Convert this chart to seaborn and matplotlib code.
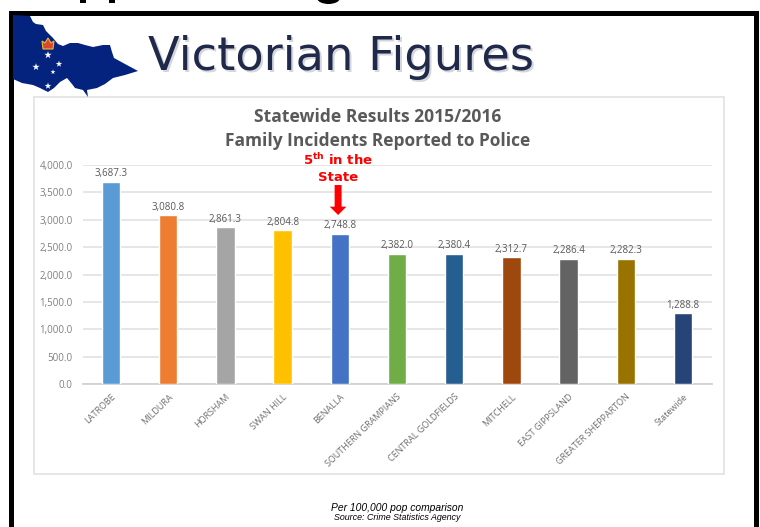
"""Victorian figures: family incidents reported to police, by area."""

import matplotlib

matplotlib.use("Agg")
import matplotlib.pyplot as plt
from matplotlib.patches import Ellipse, Polygon, Rectangle
import pandas as pd
import seaborn as sns

areas = ["LATROBE", "MILDURA", "HORSHAM", "SWAN HILL", "BENALLA",
         "SOUTHERN GRAMPIANS", "CENTRAL GOLDFIELDS", "MITCHELL",
         "EAST GIPPSLAND", "GREATER SHEPPARTON", "Statewide"]
rates = [3687.3, 3080.8, 2861.3, 2804.8, 2748.8, 2382.0, 2380.4, 2312.7,
         2286.4, 2282.3, 1288.8]
bar_colors = ["#5B9BD5", "#ED7D31", "#A5A5A5", "#FFC000", "#4472C4", "#70AD47",
              "#255E91", "#9E480E", "#636363", "#997300", "#264478"]
y_ticks = [0, 500, 1000, 1500, 2000, 2500, 3000, 3500, 4000]

# outline of the state logo, in pixels of the picture
map_outline = [(13, 15), (30, 16), (33, 22), (36, 24), (43, 25), (46, 31), (53, 38),
               (58, 44), (63, 46), (70, 43), (78, 43), (85, 45), (93, 47), (103, 45),
               (110, 45), (112, 52), (114, 58), (125, 64), (138, 71), (125, 75),
               (113, 78), (105, 84), (97, 88), (87, 90), (88, 97), (83, 90), (75, 88),
               (72, 84), (67, 78), (60, 82), (54, 88), (48, 92), (40, 88), (33, 85),
               (22, 83), (13, 79)]
crown_outline = [(43, 49), (42, 41), (45, 43), (48, 38), (51, 43), (54, 41), (53, 49)]
map_stars = [(48, 55, 32), (59, 64, 24), (36, 67, 30), (53, 72, 14), (48, 86, 26)]

W, H = 760, 527

sns.set_theme(style="white")
plt.rcParams["font.family"] = ["Open Sans", "DejaVu Sans"]

fig = plt.figure(figsize=(W / 100, H / 100), dpi=100, facecolor="white")

# pixel layer for the slide: frame, logo, headings
bg = fig.add_axes([0, 0, 1, 1], zorder=0)
bg.set_xlim(0, W)
bg.set_ylim(H, 0)
bg.axis("off")
bg.add_patch(Rectangle((10.5, 12.5), 745, 530, fc="white", ec="black", lw=3.6))
bg.add_patch(Rectangle((34, 97), 690, 377, fc="white", ec="#E2E2E2", lw=1.2))
bg.add_patch(Polygon(map_outline, closed=True, fc="#03237E", ec="none"))
bg.scatter([s[0] for s in map_stars], [s[1] for s in map_stars],
           s=[s[2] for s in map_stars], marker="*", color="white", lw=0)
bg.add_patch(Polygon(crown_outline, closed=True, fc="#D9482B", ec="#E8B73A", lw=0.8))

# bits of the cut-off heading above the frame
bg.add_patch(Rectangle((80, 0), 6, 3, fc="black", ec="none"))
bg.add_patch(Rectangle((109, 0), 6, 3, fc="black", ec="none"))
bg.add_patch(Ellipse((328.5, -2), 23, 12, fc="black", ec="none"))

bg.text(149.5, 59.5, "Victorian Figures", fontsize=33.4, color="#B8BBC4", ha="left",
        va="center", family="DejaVu Sans", alpha=0.6)
bg.text(148, 58, "Victorian Figures", fontsize=33.4, color="#20294A", ha="left",
        va="center", family="DejaVu Sans")
bg.text(378, 117, "Statewide Results 2015/2016", fontsize=12.6, fontweight="bold",
        color="#595959", ha="center", va="center")
bg.text(378, 141, "Family Incidents Reported to Police", fontsize=12.5, fontweight="bold",
        color="#595959", ha="center", va="center")
bg.text(397, 508, "Per 100,000 pop comparison", fontsize=7.4, style="italic", color="black",
        ha="center", va="center", family="Liberation Sans")
bg.text(397, 518, "Source: Crime Statistics Agency", fontsize=6.4, style="italic", color="black",
        ha="center", va="center", family="Liberation Sans")

# the chart itself
ax = fig.add_axes([82.5 / W, 1 - 384 / H, 629 / W, 219 / H], zorder=1)
ax.patch.set_alpha(0)
df = pd.DataFrame({"area": areas, "rate": rates})
sns.barplot(data=df, x="area", y="rate", hue="area", palette=bar_colors, legend=False,
            width=0.32, saturation=1, ax=ax, zorder=3)
ax.set_ylim(0, 4000)
ax.set_xlim(-0.5, len(areas) - 0.5)
ax.set_yticks(y_ticks)
ax.set_yticklabels([f"{v:,.1f}" for v in y_ticks], fontsize=7, color="#7F7F7F")
ax.set_xlabel("")
ax.set_ylabel("")
ax.grid(axis="y", color="#DFDFDF", lw=1.1)
ax.set_axisbelow(True)
sns.despine(ax=ax, left=True, top=True, right=True)
ax.spines["bottom"].set_color("#D0D0D0")
ax.tick_params(axis="y", length=0, pad=7)
ax.tick_params(axis="x", length=0, pad=6)
ax.set_xticks(range(len(areas)))
ax.set_xticklabels(areas, rotation=44, ha="right", rotation_mode="anchor",
                   fontsize=6.5, color="#6E6E6E")

for i, v in enumerate(rates):
    ax.annotate(f"{v:,.1f}", (i, v), xytext=(0, 2), textcoords="offset points",
                ha="center", va="bottom", fontsize=7, color="#595959")

# callout over Benalla
benalla = areas.index("BENALLA")
ax.annotate("", xy=(benalla - 0.03, 3087), xytext=(benalla - 0.03, 3634),
            arrowprops=dict(facecolor="#FF0000", edgecolor="#FF0000", width=5,
                            headwidth=12, headlength=6, shrink=0, lw=0))
ax.text(benalla - 0.03, 4090, r"5$^{\mathbf{th}}$ in the", fontsize=9.5, fontweight="bold",
        color="#FF0000", ha="center", va="center", clip_on=False, family="DejaVu Sans",
        math_fontfamily="dejavusans")
ax.text(benalla - 0.03, 3770, "State", fontsize=9.5, fontweight="bold",
        color="#FF0000", ha="center", va="center", clip_on=False, family="DejaVu Sans")

fig.savefig("out.png", dpi=100, facecolor="white")
